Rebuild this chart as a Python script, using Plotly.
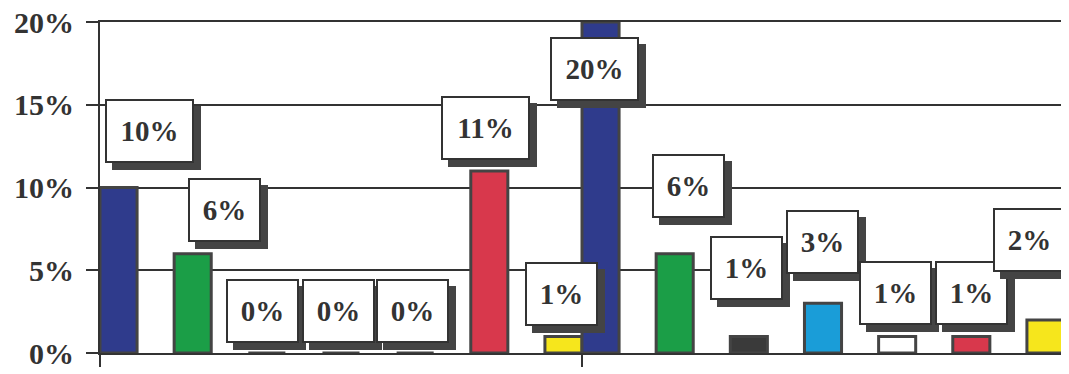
import plotly.graph_objects as go

# two groups of seven bars, same colour order in each group
group_a = [10, 6, 0, 0, 0, 11, 1]
group_b = [20, 6, 1, 3, 1, 1, 2]
bar_colors = ["#2f3b8c", "#1b9e47", "#3a3a3a", "#1a9dd8", "#ffffff", "#d8384c", "#f6e61c"]
y_ticks = [0, 5, 10, 15, 20]
y_tick_text = ["0%", "5%", "10%", "15%", "20%"]

# label box offsets from bar top (px, right / up), hand-placed like the original
label_offsets = [
    (31, 57), (32, 44), (-4, 42), (-3, 42), (-3, 42), (-4, 43), (-2, 42),
    (-6, -47), (14, 68), (-2, 68), (-1, 61), (-2, 43), (0, 43), (-16, 80),
]

INK = "#333333"
SERIF = "Liberation Serif"

values = group_a + group_b
colors = bar_colors + bar_colors
# group b sits only half a slot after the last bar of group a
xpos = [i - (0.5 if i >= len(group_a) else 0) for i in range(len(values))]

fig = go.Figure(go.Bar(
    x=xpos, y=values, width=0.5,
    marker=dict(color=colors, line=dict(color="#444444", width=3)),
    hoverinfo="skip",
))

for x, v, (dx, dy) in zip(xpos, values, label_offsets):
    text = f"{v}%"
    w = 81 if len(text) > 2 else 65
    common = dict(x=x, y=v, xref="x", yref="y", showarrow=False, width=w, height=56,
                  borderpad=2, borderwidth=2,
                  font=dict(family=SERIF, size=29, color=INK, weight="bold"))
    # drop shadow
    fig.add_annotation(text="", bgcolor="#444444", bordercolor="#444444",
                       xshift=dx + 7, yshift=dy - 7, **common)
    fig.add_annotation(text=text, bgcolor="white", bordercolor=INK,
                       xshift=dx, yshift=dy, **common)

fig.update_xaxes(
    range=[-0.25, 12.75], showgrid=False, zeroline=False, automargin=False,
    showline=True, linecolor=INK, linewidth=2, mirror=True,
    tickmode="array", tickvals=[-0.249, 6.25, 12.749], ticktext=["", "", ""],
    ticks="outside", ticklen=12, tickwidth=2, tickcolor=INK,
)
fig.update_yaxes(
    range=[0, 20], tickvals=y_ticks, ticktext=y_tick_text, automargin=False,
    showgrid=True, gridcolor=INK, gridwidth=2, zeroline=False,
    showline=True, linecolor=INK, linewidth=2, mirror=True,
    ticks="outside", ticklen=12, tickwidth=2, tickcolor=INK, ticklabelstandoff=6,
    ticklabeloverflow="allow",
    tickfont=dict(family=SERIF, size=30, color=INK, weight="bold"),
)
# page body adds an 8px margin, so the figure is sized/offset to land on the same pixels
fig.update_layout(
    width=1061, height=366, showlegend=False,
    margin=dict(l=92, r=5, t=14, b=21),
    paper_bgcolor="white", plot_bgcolor="white",
)

fig.write_html("out.html")
